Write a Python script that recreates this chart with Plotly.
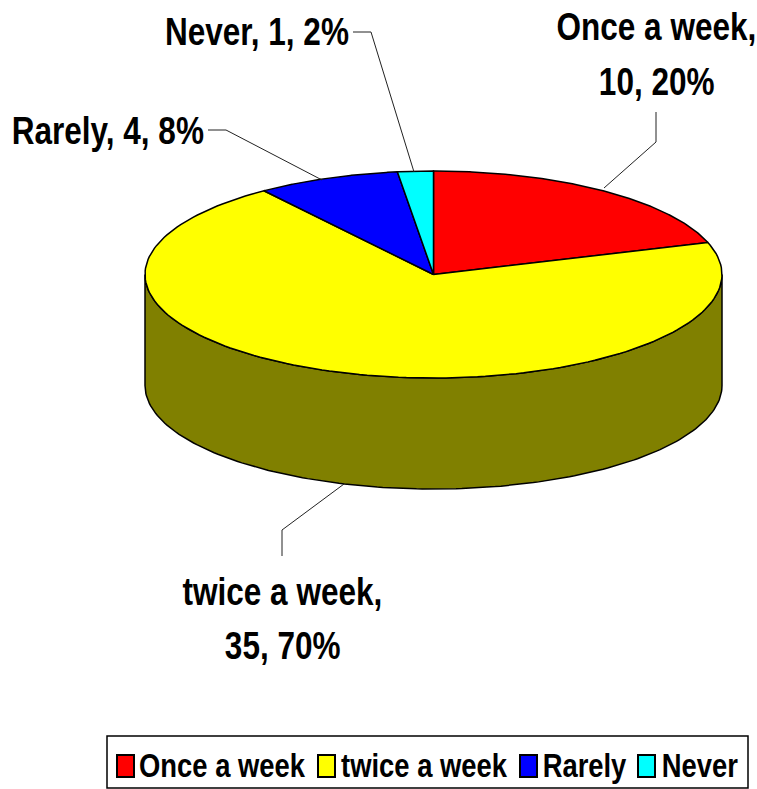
import math
import plotly.graph_objects as go

categories = ["Once a week", "twice a week", "Rarely", "Never"]
values = [10, 35, 4, 1]
percents = [20, 70, 8, 2]
top_colors = ["#FF0000", "#FFFF00", "#0000FF", "#00FFFF"]
side_color = "#808000"

W, H = 757, 789
CX, CY, RX, RY, DEPTH = 433.5, 274.5, 288.5, 103.5, 111
FONT = "Liberation Sans, Arial"
FS_LABEL = 38
FS_LEGEND = 33
H_SCALE = 0.83


def pt(frac, dy=0):
    t = 2 * math.pi * frac
    return CX + RX * math.sin(t), CY - RY * math.cos(t) + dy


def arc(f0, f1, dy=0, n=160):
    pts = [pt(f0 + (f1 - f0) * i / n, dy) for i in range(n + 1)]
    return [p[0] for p in pts], [p[1] for p in pts]


fig = go.Figure()
line = dict(color="black", width=1.5)
fracs = [sum(percents[:i]) / sum(percents) for i in range(len(percents) + 1)]

xa, ya = arc(0.25, 0.75)
xb, yb = arc(0.75, 0.25, DEPTH)
fig.add_trace(go.Scatter(x=xa + xb + [xa[0]], y=ya + yb + [ya[0]], mode="lines",
                         fill="toself", fillcolor=side_color, line=line,
                         hoverinfo="skip", showlegend=False))

for i, c in enumerate(categories):
    x, y = arc(fracs[i], fracs[i + 1])
    fig.add_trace(go.Scatter(x=[CX] + x + [CX], y=[CY] + y + [CY], mode="lines",
                             fill="toself", fillcolor=top_colors[i], line=line,
                             name=c, showlegend=False))

leaders = [
    ([604, 656, 656], [188, 142, 112]),
    ([344, 282, 282], [484, 530, 556]),
    ([322, 226, 208], [180, 130, 130]),
    ([414, 371, 353], [172, 32, 32]),
]
for lx, ly in leaders:
    fig.add_trace(go.Scatter(x=lx, y=ly, mode="lines", line=dict(color="#222222", width=1),
                             hoverinfo="skip", showlegend=False))

labels = [
    (656, 27, f"{categories[0]},"),
    (656, 82, f"{values[0]}, {percents[0]}%"),
    (282, 592, f"{categories[1]},"),
    (282, 646, f"{values[1]}, {percents[1]}%"),
    (108, 131, f"{categories[2]}, {values[2]}, {percents[2]}%"),
    (257, 32, f"{categories[3]}, {values[3]}, {percents[3]}%"),
]
annotations = [dict(x=x, y=y, xref="x", yref="y", text=f"<b>{t}</b>", showarrow=False,
                    font=dict(family=FONT, size=FS_LABEL, color="black"), align="center")
               for x, y, t in labels]

shapes = [dict(type="rect", xref="x", yref="y", x0=107, x1=748, y0=736, y1=788,
               line=dict(color="black", width=1.5), fillcolor="white", layer="below")]
swatch_x = [117, 318, 520, 638]
text_x = [222, 424, 585, 700]
for i, c in enumerate(categories):
    shapes.append(dict(type="rect", xref="x", yref="y", x0=swatch_x[i], x1=swatch_x[i] + 17,
                       y0=755, y1=777, line=dict(color="black", width=2),
                       fillcolor=top_colors[i]))
    annotations.append(dict(x=text_x[i], y=765, xref="x", yref="y", text=f"<b>{c}</b>",
                            showarrow=False,
                            font=dict(family=FONT, size=FS_LEGEND, color="black")))

fig.update_layout(
    width=W, height=H,
    margin=dict(l=0, r=0, t=0, b=0), autosize=False,
    paper_bgcolor="white", plot_bgcolor="white", showlegend=False,
    xaxis=dict(range=[0, W], visible=False, fixedrange=True),
    yaxis=dict(range=[H, 0], visible=False, fixedrange=True),
    annotations=annotations, shapes=shapes,
)

# Fill the window exactly, and squeeze each real text horizontally to the reference's
# tall, condensed bold lettering.
post_script = """
document.body.style.margin = '0';
document.documentElement.style.overflow = 'hidden';
document.querySelectorAll('.annotation [clip-path]').forEach(function (e) {
  e.removeAttribute('clip-path');
});
document.querySelectorAll('text.annotation-text').forEach(function (t) {
  var b = t.getBBox();
  var c = b.x + b.width / 2;
  t.setAttribute('transform', 'translate(' + c + ',0) scale(%s,1) translate(' + (-c) + ',0)');
});
""" % H_SCALE
fig.write_html("out.html", post_script=post_script, config={"displayModeBar": False})
